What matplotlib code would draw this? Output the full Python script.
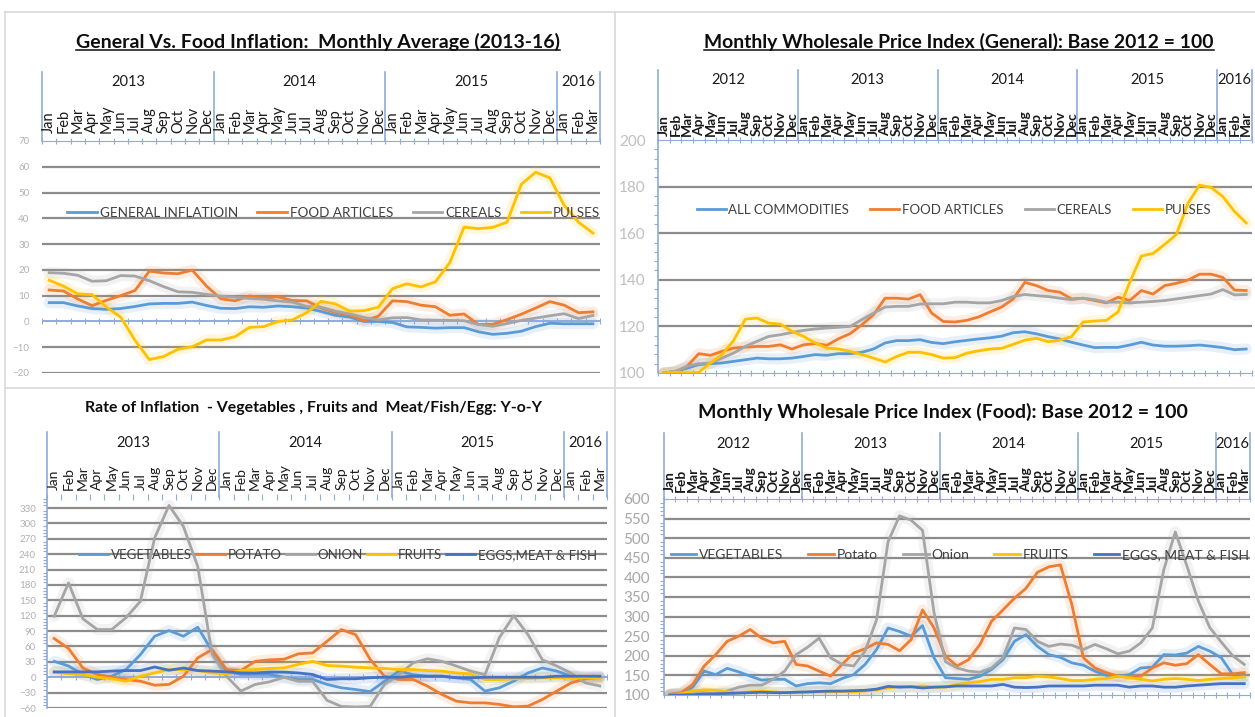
import matplotlib.pyplot as plt
import numpy as np

plt.rcParams['font.family'] = ['Lato', 'DejaVu Sans']

MONTHS = ['Jan', 'Feb', 'Mar', 'Apr', 'May', 'Jun', 'Jul', 'Aug', 'Sep', 'Oct', 'Nov', 'Dec']
YEARS_13 = [2013, 2014, 2015, 2016]
YEARS_12 = [2012, 2013, 2014, 2015, 2016]

# --- top left: inflation y-o-y (%) Jan 2013 - Mar 2016
general_infl = [7.3, 7.3, 6.0, 5.0, 4.7, 5.0, 5.8, 6.8, 7.0, 7.0, 7.5, 6.2,
                5.1, 5.0, 5.7, 5.5, 6.0, 5.7, 5.2, 3.9, 2.4, 1.7, 0.0, 0.0,
                -0.4, -2.1, -2.3, -2.6, -2.4, -2.4, -4.0, -5.0, -4.6, -3.8, -2.0, -0.7,
                -0.9, -0.9, -0.9]
food_infl = [12.2, 11.8, 8.7, 6.1, 8.2, 10.0, 12.0, 19.5, 18.8, 18.5, 19.9, 13.7,
             8.8, 8.0, 9.9, 9.1, 9.5, 8.1, 8.0, 5.2, 3.5, 2.5, 0.3, 2.0,
             8.0, 7.7, 6.3, 5.7, 2.4, 2.9, -1.2, -1.1, 0.7, 2.8, 5.2, 7.7,
             6.3, 3.4, 3.7]
cereals_infl = [18.9, 18.7, 17.9, 15.6, 15.8, 17.8, 17.6, 15.8, 13.5, 11.5, 11.3, 10.5,
                9.8, 9.4, 8.9, 8.6, 8.0, 7.5, 5.8, 5.5, 4.0, 2.9, 1.5, 0.6,
                1.4, 1.5, 0.6, 0.5, 0.4, 0.3, -1.2, -1.9, -0.8, 0.4, 1.3, 2.2,
                3.0, 1.1, 2.3]
pulses_infl = [16.0, 13.7, 10.7, 10.4, 5.6, 1.7, -7.3, -14.8, -13.6, -10.8, -9.8, -7.2,
               -7.2, -5.9, -2.3, -2.0, 0.0, 0.6, 3.4, 7.8, 6.8, 4.0, 4.2, 5.5,
               12.7, 14.6, 13.4, 15.4, 22.8, 36.6, 36.0, 36.5, 38.5, 53.2, 57.9, 55.7,
               45.0, 38.5, 34.3]

# --- top right: WPI general, Jan 2012 - Mar 2016
all_comm_wpi = [100, 100.7, 102.1, 103.6, 104.0, 104.3, 105.0, 105.7, 106.4, 106.1, 106.1, 106.4,
                107.1, 107.9, 107.6, 108.3, 108.3, 108.9, 110.3, 112.9, 113.9, 113.9, 114.3, 113.1,
                112.6, 113.4, 114.0, 114.6, 115.1, 115.8, 117.3, 117.7, 116.8, 115.6, 114.6, 113.2,
                112.0, 110.9, 111.0, 111.0, 112.0, 113.2, 112.0, 111.5, 111.5, 111.7, 112.0, 111.5,
                110.9, 110.0, 110.3]
food_wpi = [100, 100.3, 102.9, 108.3, 107.6, 109.3, 110.7, 111.1, 111.4, 111.4, 112.1, 110.3,
            112.1, 112.6, 111.9, 114.7, 116.9, 120.7, 125.0, 132.1, 132.1, 131.7, 133.6, 125.7,
            122.1, 121.9, 122.6, 124.0, 126.2, 128.3, 131.8, 138.9, 137.5, 135.4, 134.7, 131.8,
            132.1, 131.1, 130.1, 132.5, 131.1, 135.4, 133.9, 137.5, 138.5, 139.9, 142.4, 142.4,
            141.0, 135.6, 135.4]
cereals_wpi = [100, 100.7, 102.9, 104.0, 104.3, 106.4, 108.6, 111.4, 113.6, 115.7, 116.4, 117.4,
               118.3, 118.9, 119.3, 119.6, 120.0, 122.9, 125.7, 128.3, 128.6, 128.6, 129.6, 129.7,
               129.7, 130.4, 130.4, 130.1, 130.1, 131.1, 132.8, 133.7, 133.2, 132.8, 132.1, 131.5,
               132.1, 131.5, 130.4, 130.4, 130.1, 130.4, 130.7, 131.1, 131.8, 132.5, 133.2, 133.9,
               135.8, 133.5, 133.7]
pulses_wpi = [100, 100.3, 100.0, 100.3, 104.3, 107.9, 114.0, 123.1, 123.6, 121.4, 121.0, 117.9,
              115.7, 112.9, 110.7, 110.3, 109.3, 107.9, 106.4, 104.7, 107.1, 108.9, 108.9, 107.9,
              106.4, 106.6, 108.5, 109.5, 110.3, 110.6, 112.3, 114.1, 114.9, 113.4, 114.1, 115.6,
              121.9, 122.3, 122.6, 126.2, 138.9, 150.2, 151.3, 155.2, 159.4, 172.8, 180.6, 179.6,
              175.7, 169.3, 164.4]

# --- bottom left: y-o-y inflation (%), Jan 2013 - Mar 2016
veg_yoy = [31, 22, 5.5, -4.4, 2, 15, 44, 80, 91, 80, 97.5, 51,
           12, 5.5, 5.5, 5.5, 0, -4.4, -4.4, -14, -20.6, -24, -28, -8,
           12, 5, 2, 2, -1, -4.4, -27, -20.6, -7.7, 8.4, 18, 12,
           2, -1, 0]
potato_yoy = [75.5, 56, 18, 5.5, 0, -4.4, -7.7, -15.5, -14, 2, 37.8, 54,
              15, 13, 31, 34, 35, 45.6, 47.5, 70, 92.9, 83, 35, 2,
              -4.4, -4.4, -17.4, -33.6, -46.6, -50, -50, -53, -57.7, -56.4, -43.4, -27,
              -11, -3, -1]
onion_yoy = [119, 184, 114, 93, 93, 116, 148, 272, 335, 294, 216, 45,
             2, -27, -14, -9, 0, -8, -8, -45, -57, -58, -57, -14,
             5, 28, 36, 31, 22, 12, 5, 77, 120, 83, 34, 22,
             8, -11, -17]
fruits_yoy = [10, 7, 5, 0, -3, -7.7, 2, 8.4, 15, 15, 13, 8.4,
              6.5, 13, 15, 17, 18.3, 25, 31, 23, 21.6, 19.6, 18.3, 17,
              15, 15, 13, 12, 8.4, 6.5, -4.4, -4.4, -3, -2.6, -1, -1,
              -1, -1, -3]
eggs_yoy = [10.4, 10.4, 10.4, 10.4, 12, 13, 13, 20, 13.6, 18, 13, 12,
            10.4, 8.4, 8.4, 10, 10, 8.4, 5.4, -4.4, -3, -3, -1, 0,
            0, 2, 2, 2, -1, -1, 0, 0, 0, 0, 0, 2,
            2, 2, 2]

# --- bottom right: WPI food items, Jan 2012 - Mar 2016
veg_wpi = [101.7, 104, 120, 161, 152, 168, 159, 148, 138, 140, 140, 123,
           129, 131, 129, 142, 152, 178, 216, 271, 262, 250, 277, 195,
           144, 142, 140, 148, 165, 190, 237, 254, 224, 203, 196, 182,
           176, 161, 150, 148, 152, 169, 171, 203, 202, 207, 224, 212,
           195, 152, 148]
potato_wpi = [101.7, 106, 127, 174, 203, 237, 250, 267, 245, 233, 237, 178,
              174, 161, 148, 178, 207, 218, 233, 229, 213, 241, 317, 271,
              199, 174, 190, 229, 288, 317, 347, 372, 413, 427, 432, 330,
              195, 169, 157, 148, 146, 148, 169, 182, 176, 180, 203, 178,
              154, 154, 157]
onion_wpi = [101.7, 103, 110, 106, 103, 110, 120, 125, 125, 140, 161, 203,
             222, 245, 195, 178, 174, 212, 292, 491, 557, 546, 520, 310,
             185, 169, 161, 158, 169, 195, 271, 267, 237, 224, 230, 227,
             216, 229, 218, 205, 212, 233, 271, 420, 516, 430, 340, 272,
             235, 200, 178]
fruits_wpi = [100, 103, 110, 113, 112, 108, 105, 108, 110, 108, 106, 107,
              107, 108, 108, 109, 108, 110, 113, 118, 122, 121, 123, 120,
              120, 127, 131, 134, 140, 140, 144, 144, 148, 146, 142, 137,
              137, 140, 142, 148, 144, 140, 136, 140, 142, 140, 137, 140,
              142, 144, 146]
eggs_wpi = [100, 100, 101, 102, 103, 104, 105, 106, 107, 106, 106, 107,
            108, 109, 110, 110, 111, 112, 115, 122, 120, 121, 118, 120,
            121, 123, 123, 123, 123, 127, 120, 119, 120, 123, 123, 123,
            123, 125, 125, 125, 120, 123, 123, 120, 120, 123, 125, 127,
            129, 129, 129]

BLUE, ORANGE, GRAY, YELLOW, DBLUE = '#5B9BD5', '#ED7D31', '#A5A5A5', '#FFC000', '#4472C4'
AXIS_BLUE = '#8FAADC'
GRID = '#8C8C8C'
TXT = '#1A1A1A'

W, H = 1255, 717
fig = plt.figure(figsize=(W / 100, H / 100), dpi=100)


def add_panel(left, right, top, bottom):
    return fig.add_axes([left / W, 1 - bottom / H, (right - left) / W, (bottom - top) / H])


def draw_header(ax, years, n, top, bottom, year_y, month_y, div_top, month_fs, month_wt):
    h = bottom - top
    to_ax = lambda y: (bottom - y) / h
    tr = ax.get_xaxis_transform()
    for i in range(n):
        ax.text(i, to_ax(month_y), MONTHS[i % 12], rotation=90, ha='center', va='bottom',
                transform=tr, fontsize=month_fs, fontweight=month_wt, color=TXT, clip_on=False)
    start = 0
    bounds = [-0.5]
    for yr in years:
        cnt = min(12, n - start)
        ax.text(start + (cnt - 1) / 2, to_ax(year_y), str(yr), ha='center', va='center',
                transform=tr, fontsize=10.5, color=TXT, clip_on=False)
        start += cnt
        bounds.append(start - 0.5)
    for b in bounds:
        ax.plot([b, b], [1, to_ax(div_top)], transform=tr, color=AXIS_BLUE, lw=1.2, clip_on=False)


def style_axes(ax, n, ylim, yticks, grid_vals, label_fs, label_color, pad, left_spine, top_ticks=True,
               bottom_ticks=False, minor=None):
    ax.set_xlim(-0.5, n - 0.5)
    ax.set_ylim(*ylim)
    ax.set_yticks(yticks)
    ax.tick_params(axis='y', length=0, labelsize=label_fs, labelcolor=label_color, pad=pad)
    for s in ax.spines.values():
        s.set_visible(False)
    if left_spine:
        ax.spines['left'].set_visible(True)
        ax.spines['left'].set_color(AXIS_BLUE)
        ax.spines['left'].set_linewidth(1.2)
    if minor is not None:
        ax.set_yticks(minor, minor=True)
        ax.tick_params(axis='y', which='minor', length=3, color=AXIS_BLUE, width=0.8)
    bounds = np.arange(n + 1) - 0.5
    ax.set_xticks(bounds)
    ax.tick_params(axis='x', top=top_ticks, bottom=bottom_ticks, labeltop=False, labelbottom=False,
                   direction='inout', length=5, color=AXIS_BLUE, width=0.8)
    for v in grid_vals:
        ax.axhline(v, color=GRID, lw=1.6, zorder=1)
    ax.set_facecolor('none')


def series(ax, vals, color, label, glow=0.14):
    x = np.arange(len(vals))
    ax.plot(x, vals, color=color, lw=8, alpha=glow, solid_capstyle='round', zorder=2)
    ax.plot(x, vals, color=color, lw=2.0, label=label, zorder=3)


def axis_line(ax, n, y, with_ticks=True):
    ax.axhline(y, color=AXIS_BLUE, lw=1.4, zorder=2.5)
    if with_ticks:
        b = np.arange(n + 1) - 0.5
        ax.plot(b, np.full(len(b), y), ls='', marker='|', ms=5, mew=0.8, color=AXIS_BLUE, zorder=2.5)


def legend(ax, x, y, fs, colsp, hl=2.2):
    ax.legend(loc='center', bbox_to_anchor=(x, y), ncol=5, frameon=False, fontsize=fs,
              handlelength=hl, handletextpad=0.2, columnspacing=colsp, labelcolor='#404040',
              borderaxespad=0)


# ---------------- top left
n1 = len(general_infl)
ax1 = add_panel(42, 600, 141, 373)
style_axes(ax1, n1, (-20, 70), np.arange(-20, 71, 10), [60, 50, 40, 30, 20, 10, -10, -20],
           7, '#B0B0B0', 9, left_spine=False)
ax1.spines['top'].set_visible(True)
ax1.spines['top'].set_color(AXIS_BLUE)
axis_line(ax1, n1, 0)
series(ax1, general_infl, BLUE, 'GENERAL INFLATIOIN')
series(ax1, food_infl, ORANGE, 'FOOD ARTICLES')
series(ax1, cereals_infl, GRAY, 'CEREALS')
series(ax1, pulses_infl, YELLOW, 'PULSES')
draw_header(ax1, YEARS_13, n1, 141, 373, 82, 133, 72, 10.5, 'normal')
legend(ax1, 0.523, 0.69, 9.7, 1.45)

# ---------------- top right
n2 = len(all_comm_wpi)
ax2 = add_panel(658, 1252, 140, 373)
style_axes(ax2, n2, (100, 200), np.arange(100, 201, 20), [180, 160, 140, 120], 11, '#BFBFBF', 9,
           left_spine=True, bottom_ticks=True, minor=np.arange(100, 201, 4))
ax2.spines['top'].set_visible(True)
ax2.spines['top'].set_color(AXIS_BLUE)
ax2.spines['bottom'].set_visible(True)
ax2.spines['bottom'].set_color(AXIS_BLUE)
series(ax2, all_comm_wpi, BLUE, 'ALL COMMODITIES')
series(ax2, food_wpi, ORANGE, 'FOOD ARTICLES')
series(ax2, cereals_wpi, GRAY, 'CEREALS')
series(ax2, pulses_wpi, YELLOW, 'PULSES')
draw_header(ax2, YEARS_12, n2, 140, 373, 80, 136, 70, 10, 'bold')
legend(ax2, 0.498, 0.70, 9.5, 1.6)

# ---------------- bottom left
n3 = len(veg_yoy)
ax3 = add_panel(47, 607, 497, 708)
style_axes(ax3, n3, (-60, 351.5), np.arange(-60, 331, 30), [v for v in range(-60, 331, 30) if v != 0],
           7, '#B0B0B0', 8, left_spine=True, minor=np.arange(-60, 351, 6))
axis_line(ax3, n3, 0)
series(ax3, veg_yoy, BLUE, 'VEGETABLES')
series(ax3, potato_yoy, ORANGE, 'POTATO')
series(ax3, onion_yoy, GRAY, 'ONION')
series(ax3, fruits_yoy, YELLOW, 'FRUITS')
series(ax3, eggs_yoy, DBLUE, 'EGGS,MEAT & FISH')
draw_header(ax3, YEARS_13, n3, 497, 708, 443, 490, 432, 10, 'normal')
legend(ax3, 0.52, 0.725, 9.5, 0.3, hl=2.2)

# ---------------- bottom right
n4 = len(veg_wpi)
ax4 = add_panel(664, 1250, 499, 695)
style_axes(ax4, n4, (100, 600), np.arange(100, 601, 50), list(range(150, 551, 50)), 11, '#A6A6A6', 10,
           left_spine=True, bottom_ticks=True, minor=np.arange(100, 601, 10))
ax4.spines['top'].set_visible(True)
ax4.spines['top'].set_color(AXIS_BLUE)
ax4.spines['bottom'].set_visible(True)
ax4.spines['bottom'].set_color(AXIS_BLUE)
series(ax4, veg_wpi, BLUE, 'VEGETABLES')
series(ax4, potato_wpi, ORANGE, 'Potato')
series(ax4, onion_wpi, GRAY, 'Onion')
series(ax4, fruits_wpi, YELLOW, 'FRUITS')
series(ax4, eggs_wpi, DBLUE, 'EGGS, MEAT & FISH')
draw_header(ax4, YEARS_12, n4, 499, 695, 444, 492, 433, 10, 'bold')
legend(ax4, 0.505, 0.714, 10, 1.8, hl=1.85)

# ---------------- panel frames
for x0, x1, y0, y1 in [(5, 1255, 12, 12), (5, 1255, 388, 388), (5, 5, 12, 717), (615, 615, 12, 717)]:
    fig.add_artist(plt.Line2D([x0 / W, x1 / W], [1 - y0 / H, 1 - y1 / H], color='#D9D9D9', lw=1.2))

# ---------------- titles (font size fitted to the width seen in the source)
titles = [
    ('General Vs. Food Inflation:  Monthly Average (2013-16)', 78, 557, 42, True),
    ('Monthly Wholesale Price Index (General): Base 2012 = 100', 705, 1213, 42, True),
    ('Rate of Inflation  - Vegetables , Fruits and  Meat/Fish/Egg: Y-o-Y', 87, 540, 408, False),
    ('Monthly Wholesale Price Index (Food): Base 2012 = 100', 700, 1185, 412, False),
]
title_artists = []
for txt, x0, x1, cy, ul in titles:
    t = fig.text((x0 + x1) / 2 / W, 1 - cy / H, txt, ha='center', va='center', fontsize=12,
                 fontweight='bold', color='#0D0D0D')
    title_artists.append((t, x1 - x0, ul))

fig.canvas.draw()
renderer = fig.canvas.get_renderer()
for t, width, ul in title_artists:
    bb = t.get_window_extent(renderer)
    t.set_fontsize(t.get_fontsize() * width / bb.width)

fig.canvas.draw()
for t, width, ul in title_artists:
    if not ul:
        continue
    bb = t.get_window_extent(renderer)
    y = bb.y0 + 1
    fig.add_artist(plt.Line2D([bb.x0 / W, bb.x1 / W], [y / H, y / H], color='#0D0D0D', lw=1.1))

fig.savefig('out.png', dpi=100, facecolor='white')
